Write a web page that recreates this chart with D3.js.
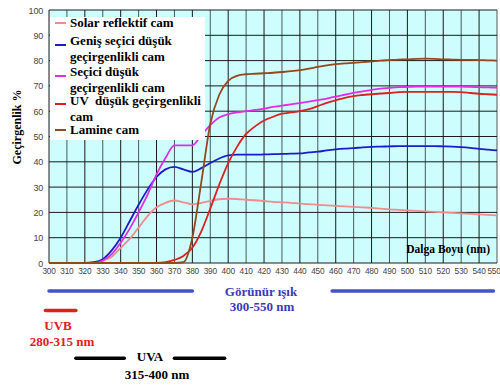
<!DOCTYPE html>
<html>
<head>
<meta charset="utf-8">
<script src="https://cdn.jsdelivr.net/npm/d3@7"></script>
<style>
  body { margin: 0; background: #fff; }
  .tick-label { font-family: Arial, 'Liberation Sans', sans-serif; font-size: 8.3px; letter-spacing: -0.2px; fill: #444; }
  .serif { font-family: 'Times New Roman', 'Liberation Serif', serif; font-weight: bold; }
</style>
</head>
<body>
<div id="chart"></div>
<script>
const width = 500, height = 389;
const margin = { top: 10, left: 49, right: 3, bottom: 126 };

// wavelengths (nm), 5 nm steps
const wavelengths = d3.range(300, 551, 5);

const seriesNames = ['Solar reflektif cam', 'Geniş seçici düşük geçirgenlikli cam',
    'Seçici düşük geçirgenlikli cam', 'UV  düşük geçirgenlikli cam', 'Lamine cam'];
const seriesColors = ['#f08c8c', '#1c1cc8', '#e22ee2', '#dd2020', '#96471c'];

const solarValues = [0, 0, 0, 0, 0, 0, 1, 2.5, 6, 9.5, 14, 18.5, 22, 23.8, 24.7, 24,
    23.2, 23.8, 24.6, 25.2, 25.4, 25.3, 25, 24.8, 24.5, 24.2, 24, 23.8, 23.5, 23.3, 23,
    22.8, 22.6, 22.4, 22.2, 22, 21.8, 21.5, 21.2, 21, 20.8, 20.6, 20.4, 20.2, 20, 19.8,
    19.6, 19.4, 19.2, 19, 18.8];
const genisValues = [0, 0, 0, 0, 0, 0.3, 1.5, 5, 10, 16.5, 23, 29, 34, 37, 38, 37,
    36, 37.5, 39.5, 41.3, 42.5, 42.8, 42.8, 42.8, 42.9, 43, 43.1, 43.2, 43.3, 43.7, 44,
    44.5, 44.9, 45.2, 45.4, 45.7, 45.9, 46, 46.1, 46.2, 46.2, 46.2, 46.2, 46.2, 46.1, 46,
    45.8, 45.5, 45.1, 44.8, 44.5];
const seciciValues = [0, 0, 0, 0, 0, 0, 1, 3.5, 8, 13.5, 20, 27, 35, 41.5, 46.5, 46.5,
    46.5, 50.5, 54.5, 57.5, 58.8, 59.5, 60, 60.5, 61, 61.7, 62.2, 62.7, 63.2, 63.8, 64.4,
    65, 65.8, 66.5, 67.2, 67.8, 68.4, 68.9, 69.2, 69.5, 69.6, 69.7, 69.7, 69.7, 69.7, 69.7,
    69.7, 69.6, 69.5, 69.4, 69.3];
const uvValues = [0, 0, 0, 0, 0, 0, 0, 0, 0, 0, 0, 0, 0, 0.3, 1.2, 2.8,
    6, 12.5, 21.5, 31, 39.5, 46, 51, 54, 56.3, 57.8, 59, 59.5, 60, 60.8, 62,
    63.3, 64.3, 65.3, 66, 66.4, 66.7, 67, 67.2, 67.5, 67.6, 67.6, 67.6, 67.6, 67.6, 67.6,
    67.5, 67.2, 66.9, 66.7, 66.5];
const lamineValues = [0, 0, 0, 0, 0, 0, 0, 0, 0, 0, 0, 0, 0, 0, 0, 0.3,
    10, 32, 55, 66.5, 72, 74, 74.6, 74.8, 75, 75.2, 75.5, 75.8, 76.2, 76.8, 77.5,
    78.1, 78.6, 78.9, 79.1, 79.4, 79.7, 80, 80.2, 80.4, 80.5, 80.7, 80.8, 80.7, 80.5, 80.4,
    80.3, 80.3, 80.2, 80.1, 80];

const xTicks = d3.range(300, 551, 10);
const yTicks = d3.range(0, 101, 10);

const xScale = d3.scaleLinear().domain([300, 550]).range([margin.left, width - margin.right]);
const yScale = d3.scaleLinear().domain([0, 100]).range([height - margin.bottom, margin.top]);

function drawGrid(svg) {
    svg.append('rect')
        .attr('x', xScale(300)).attr('y', yScale(100))
        .attr('width', xScale(550) - xScale(300))
        .attr('height', yScale(0) - yScale(100))
        .attr('fill', '#cdfdfd');

    svg.append('g').selectAll('line').data(xTicks).enter().append('line')
        .attr('x1', d => xScale(d)).attr('x2', d => xScale(d))
        .attr('y1', yScale(100)).attr('y2', yScale(0))
        .attr('stroke', (d, i) => i % 2 ? '#4a5a5a' : '#1a1a1a').attr('stroke-width', 1);

    svg.append('g').selectAll('line').data(yTicks).enter().append('line')
        .attr('x1', xScale(300)).attr('x2', xScale(550))
        .attr('y1', d => yScale(d)).attr('y2', d => yScale(d))
        .attr('stroke', '#1a1a1a').attr('stroke-width', 1);
}

function drawAxes(svg) {
    // last label pulled in a little so it stays inside the page
    svg.append('g').selectAll('text').data(xTicks).enter().append('text')
        .attr('class', 'tick-label')
        .attr('x', d => d === 550 ? xScale(d) - 3 : xScale(d)).attr('y', yScale(0) + 11)
        .attr('text-anchor', 'middle')
        .text(d => d);

    svg.append('g').selectAll('text').data(yTicks).enter().append('text')
        .attr('class', 'tick-label')
        .attr('x', xScale(300) - 6).attr('y', d => yScale(d) + 3.5)
        .attr('text-anchor', 'end')
        .style('font-size', '9px')
        .text(d => d);

    svg.append('text')
        .attr('class', 'serif')
        .attr('transform', 'translate(21,127) rotate(-90)')
        .attr('text-anchor', 'middle')
        .style('font-size', '12px')
        .text('Geçirgenlik %');

    svg.append('text')
        .attr('class', 'serif')
        .attr('x', 490).attr('y', 253)
        .attr('text-anchor', 'end')
        .style('font-size', '11.5px')
        .text('Dalga Boyu (nm)');
}

function drawLines(svg) {
    const allValues = [solarValues, genisValues, seciciValues, uvValues, lamineValues];
    const line = d3.line()
        .x((d, i) => xScale(wavelengths[i]))
        .y(d => yScale(d))
        .curve(d3.curveMonotoneX);

    svg.append('g').selectAll('path').data(allValues).enter().append('path')
        .attr('d', d => line(d))
        .attr('fill', 'none')
        .attr('stroke', (d, i) => seriesColors[i])
        .attr('stroke-width', 1.8);
}

function drawLegend(svg) {
    svg.append('rect')
        .attr('x', 50).attr('y', 17).attr('width', 155).attr('height', 123)
        .attr('fill', '#fff');

    const legendRows = [
        { lines: ['Solar reflektif cam'], y: 27, sy: 23 },
        { lines: ['Geniş seçici düşük', 'geçirgenlikli cam'], y: 45, sy: 45 },
        { lines: ['Seçici düşük', 'geçirgenlikli cam'], y: 76, sy: 76 },
        { lines: ['UV  düşük geçirgenlikli', 'cam'], y: 105, sy: 104 },
        { lines: ['Lamine cam'], y: 134, sy: 130 }
    ];

    legendRows.forEach((row, i) => {
        svg.append('line')
            .attr('x1', 55).attr('x2', 66)
            .attr('y1', row.sy).attr('y2', row.sy)
            .attr('stroke', seriesColors[i]).attr('stroke-width', 2);
        const t = svg.append('text')
            .attr('class', 'serif')
            .attr('x', 70).attr('y', row.y)
            .style('font-size', '13px')
            .style('white-space', 'pre');
        row.lines.forEach((l, j) => {
            t.append('tspan').attr('x', 70).attr('dy', j === 0 ? 0 : 15.5).text(l);
        });
    });
}

function drawBands(svg) {
    const bandY = 291;
    // visible light bar, split by its label
    [[300, 380], [458, 548]].forEach(b => {
        svg.append('line')
            .attr('x1', xScale(b[0])).attr('x2', xScale(b[1]))
            .attr('y1', bandY).attr('y2', bandY)
            .attr('stroke', '#4652cc').attr('stroke-width', 3.5).attr('stroke-linecap', 'round');
    });
    svg.append('text').attr('class', 'serif')
        .attr('x', 261).attr('y', 296).attr('text-anchor', 'middle')
        .style('font-size', '13px').attr('fill', '#3a3ab4')
        .text('Görünür ışık');
    svg.append('text').attr('class', 'serif')
        .attr('x', 262).attr('y', 311).attr('text-anchor', 'middle')
        .style('font-size', '13px').attr('fill', '#3a3ab4')
        .text('300-550 nm');

    // UVB
    svg.append('line')
        .attr('x1', xScale(298)).attr('x2', xScale(315))
        .attr('y1', 310.5).attr('y2', 310.5)
        .attr('stroke', '#e02020').attr('stroke-width', 3.5).attr('stroke-linecap', 'round');
    svg.append('text').attr('class', 'serif')
        .attr('x', 58).attr('y', 330).attr('text-anchor', 'middle')
        .style('font-size', '13px').attr('fill', '#e02020')
        .text('UVB');
    svg.append('text').attr('class', 'serif')
        .attr('x', 62).attr('y', 346).attr('text-anchor', 'middle')
        .style('font-size', '13px').attr('fill', '#e02020')
        .text('280-315 nm');

    // UVA
    [[315, 342], [370, 398]].forEach(b => {
        svg.append('line')
            .attr('x1', xScale(b[0])).attr('x2', xScale(b[1]))
            .attr('y1', 358.3).attr('y2', 358.3)
            .attr('stroke', '#000').attr('stroke-width', 3.5).attr('stroke-linecap', 'round');
    });
    svg.append('text').attr('class', 'serif')
        .attr('x', 150).attr('y', 361).attr('text-anchor', 'middle')
        .style('font-size', '13px').attr('fill', '#000')
        .text('UVA');
    svg.append('text').attr('class', 'serif')
        .attr('x', 157).attr('y', 379).attr('text-anchor', 'middle')
        .style('font-size', '13px').attr('fill', '#000')
        .text('315-400 nm');
}

function main() {
    const svg = d3.select('#chart').append('svg')
        .attr('width', width).attr('height', height);
    drawGrid(svg);
    drawLines(svg);
    drawLegend(svg);
    drawAxes(svg);
    drawBands(svg);
}

main();
</script>
</body>
</html>
